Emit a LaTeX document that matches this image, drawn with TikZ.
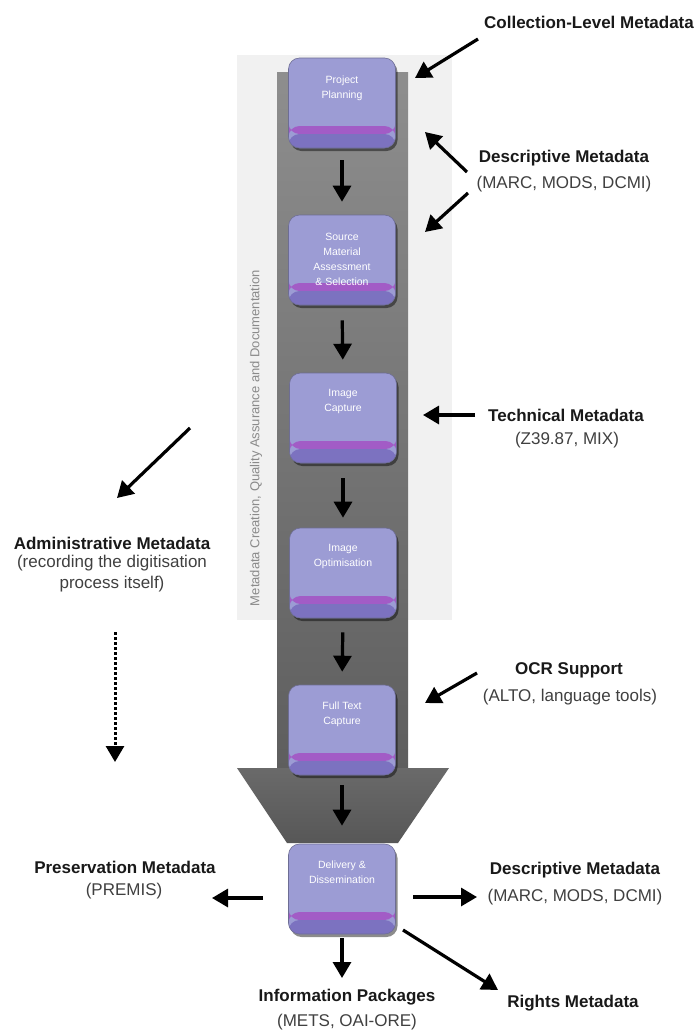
\documentclass[tikz,border=0pt]{standalone}
\usepackage{fontspec}
\setmainfont{Liberation Sans}
\usetikzlibrary{arrows.meta,shadows,calc}
\definecolor{panel}{HTML}{F1F1F1}
\definecolor{lav}{HTML}{9C9CD4}
\definecolor{lavdark}{HTML}{7C72C0}
\definecolor{mag}{HTML}{A25CC6}
\definecolor{shaftA}{HTML}{8E8E8E}
\definecolor{shaftB}{HTML}{5E5E5E}
\definecolor{headA}{HTML}{6A6A6A}
\definecolor{headB}{HTML}{575757}
\definecolor{labgray}{HTML}{404040}
\definecolor{vtext}{HTML}{8A8A8A}
\begin{document}
\begin{tikzpicture}[x=1pt,y=-1pt,
  stepbox/.style={draw=lav!70!black, line width=0.6pt, fill=lav, rounded corners=11pt,
    minimum width=107pt, minimum height=90pt, inner sep=0pt,
    drop shadow={shadow xshift=2pt, shadow yshift=-3pt, fill=black, opacity=0.45},
    path picture={
      \fill[mag] ($(path picture bounding box.south west)+(0pt,22pt)$) rectangle ($(path picture bounding box.south east)+(0pt,14pt)$);
      \fill[lavdark] ($(path picture bounding box.south west)+(0pt,14pt)$) rectangle (path picture bounding box.south east);
    }},
  boxtext/.style={text=white, font=\fontsize{10.5}{15}\selectfont, align=center, anchor=north, inner sep=0pt},
  ttl/.style={font=\fontsize{17}{20}\selectfont\bfseries, text=black!90, inner sep=0pt},
  sub/.style={font=\fontsize{17}{20}\selectfont, text=labgray, inner sep=0pt},
  arr/.style={line width=3.2pt, -{Triangle[length=16pt,width=18pt]}},
  darr/.style={line width=3pt, dash pattern=on 2.5pt off 2.5pt, -{Triangle[length=16pt,width=18pt]}},
]
\useasboundingbox (0,0) rectangle (699,1034);
\fill[white] (0,0) rectangle (699,1034);
% background panel and big arrow
\fill[panel] (237,55) rectangle (452,620);
\shade[top color=shaftA, bottom color=shaftB] (277,72) rectangle (408,770);
\shade[top color=headA, bottom color=headB] (237,768) -- (449,768) -- (398,843) -- (287,843) -- cycle;
\node[rotate=90, font=\fontsize{13}{15}\selectfont, text=vtext] (vt) at (256,438) {Metadata Creation, Quality Assurance and Documentation};

% process boxes
\node[stepbox] (b1) at (342,103) {};
\node[stepbox] (b2) at (342,260) {};
\node[stepbox] (b3) at (343,418) {};
\node[stepbox] (b4) at (343,573) {};
\node[stepbox] (b5) at (342,730) {};
\node[stepbox] (b6) at (342,889) {};
\node[boxtext] (t1) at ([yshift=-18pt]b1.north) {Project\\Planning};
\node[boxtext] (t2) at ([yshift=-18pt]b2.north) {Source\\Material\\Assessment\\\& Selection};
\node[boxtext] (t3) at ([yshift=-16pt]b3.north) {Image\\Capture};
\node[boxtext] (t4) at ([yshift=-16pt]b4.north) {Image\\Optimisation};
\node[boxtext] (t5) at ([yshift=-17pt]b5.north) {Full Text\\Capture};
\node[boxtext] (t6) at ([yshift=-17pt]b6.north) {Delivery \&\\Dissemination};

\draw[arr, shorten <=12pt, shorten >=13pt] (b1.south) -- (b2.north);
\draw[arr, shorten <=15pt, shorten >=13pt] (b2.south) -- (b3.north);
\draw[arr, shorten <=15pt, shorten >=10pt] (b3.south) -- (b4.north);
\draw[arr, shorten <=14pt, shorten >=13pt] (b4.south) -- (b5.north);
\draw[arr, shorten <=10pt, shorten >=18pt] (b5.south) -- (b6.north);

% labels
\node[ttl] (coll) at (589,22) {Collection-Level Metadata};
\node[ttl] (desc1) at (564,158) {Descriptive Metadata};
\node[sub] (desc1s) at (564,184) {(MARC, MODS, DCMI)};
\node[ttl] (tech) at (566,415) {Technical Metadata};
\node[sub] (techs) at (567,440) {(Z39.87, MIX)};
\node[ttl] (adm) at (112,543) {Administrative Metadata};
\node[sub] (adms1) at (112,563) {(recording the digitisation};
\node[sub] (adms2) at (112,584) {process itself)};
\node[ttl] (ocr) at (569,670) {OCR Support};
\node[sub] (ocrs) at (570,697) {(ALTO, language tools)};
\node[ttl] (pres) at (125,867) {Preservation Metadata};
\node[sub] (press) at (124,891) {(PREMIS)};
\node[ttl] (desc2) at (575,870) {Descriptive Metadata};
\node[sub] (desc2s) at (575,897) {(MARC, MODS, DCMI)};
\node[ttl] (info) at (347,997) {Information Packages};
\node[sub] (infos) at (347,1022) {(METS, OAI-ORE)};
\node[ttl] (rights) at (573,1003) {Rights Metadata};

% arrow end points
\coordinate (collA) at (478,39);   \coordinate (collB) at (415,78);
\coordinate (d1uA) at (467,172);   \coordinate (d1uB) at (425,132);
\coordinate (d1dA) at (468,193);   \coordinate (d1dB) at (425,232);
\coordinate (techA) at (475,415);  \coordinate (techB) at (423,415);
\coordinate (admA) at (190,428);   \coordinate (admB) at (117,498);
\coordinate (dotA) at (115,632);   \coordinate (dotB) at (115,762);
\coordinate (ocrA) at (477,673);   \coordinate (ocrB) at (425,703);
\coordinate (presA) at (263,898);  \coordinate (presB) at (212,898);
\coordinate (d2A) at (413,897);    \coordinate (d2B) at (477,897);
\coordinate (rA) at (403,930);     \coordinate (rB) at (498,990);
\coordinate (infA) at (342,938);   \coordinate (infB) at (342,978);

\draw[arr] (collA) -- (collB);
\draw[arr] (d1uA) -- (d1uB);
\draw[arr] (d1dA) -- (d1dB);
\draw[arr] (techA) -- (techB);
\draw[arr] (admA) -- (admB);
\draw[darr] (dotA) -- (dotB);
\draw[arr] (ocrA) -- (ocrB);
\draw[arr] (presA) -- (presB);
\draw[arr] (d2A) -- (d2B);
\draw[arr] (rA) -- (rB);
\draw[arr] (infA) -- (infB);
\end{tikzpicture}
\end{document}
